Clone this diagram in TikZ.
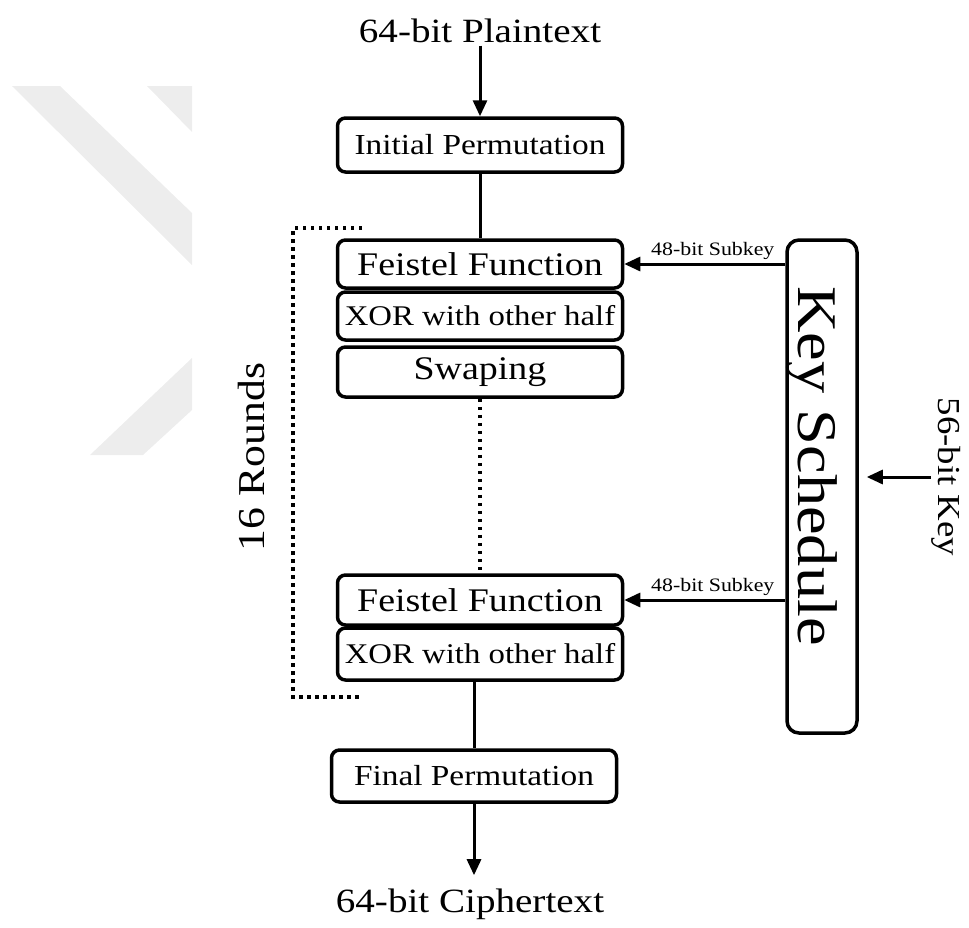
\documentclass[tikz,border=0pt]{standalone}
\usepackage{fontspec}
\setmainfont{Liberation Serif}[FakeStretch=1.15]
\usetikzlibrary{arrows.meta}
\newcommand\fsz[1]{\fontsize{#1}{#1}\selectfont}

\begin{document}
\begin{tikzpicture}[x=1pt,y=-1pt,
  blk/.style={draw,line width=3.5pt,rounded corners=8pt,minimum width=285pt,inner sep=0pt,fill=white},
  lbl/.style={inner sep=3pt},
  conn/.style={line width=3pt},
  arr/.style={line width=3pt,-{Triangle[length=16pt,width=14pt]}},
  dots/.style={line width=3.5pt,dash pattern=on 3.5pt off 4.5pt}]
\useasboundingbox (0,0) rectangle (969,927);
% watermark
\fill[black!7] (12,86) -- (60,86) -- (192,213) -- (192,265) -- cycle;
\fill[black!7] (147,86) -- (192,86) -- (192,132) -- cycle;
\fill[black!7] (192,358) -- (192,410) -- (143,455) -- (90,455) -- cycle;
% main column
\node[lbl,font=\fsz{34},anchor=base] (pt) at (480,42) {64-bit Plaintext};
\node[blk,minimum height=54pt,font=\fsz{29}] (ip) at (480,145) {Initial Permutation};
\node[blk,minimum height=48pt,font=\fsz{33}] (f1) at (480,264) {Feistel Function};
\node[blk,minimum height=48pt,font=\fsz{28.5}] (x1) at (480,316) {XOR with other half};
\node[blk,minimum height=50pt,font=\fsz{33}] (sw) at (480,372) {Swaping};
\node[blk,minimum height=50pt,font=\fsz{33}] (f2) at (480,600) {Feistel Function};
\node[blk,minimum height=52pt,font=\fsz{28.5}] (x2) at (480,654) {XOR with other half};
\node[blk,minimum height=52pt,font=\fsz{29}] (fp) at (474,776) {Final Permutation};
\node[lbl,font=\fsz{34},anchor=base] (ct) at (470,912) {64-bit Ciphertext};
\node[font=\fsz{38},rotate=90,anchor=base,inner sep=0pt] (rnd) at (264,457) {16 Rounds};
% key schedule
\node[blk,minimum width=70pt,minimum height=493pt,rounded corners=12pt] (ks) at (822,486.5) {};
\node[font=\fsz{56},rotate=-90,anchor=base,inner sep=0pt] (kst) at (798,466) {Key Schedule};
\node[font=\fsz{32},rotate=-90,anchor=base,inner sep=0pt] (kin) at (938,477) {56-bit Key};
% connectors
\draw[arr] (pt.south) -- (ip.north);
\draw[conn] (ip) -- (f1);
\draw[dots] (sw) -- (f2);
\draw[conn] (x2.south -| fp.north) -- (fp.north);
\draw[arr,shorten >=10pt] (fp.south) -- (fp.south |- ct.north);
\draw[arr] (f1.east -| ks.west) -- node[lbl,pos=0.45,above,font=\fsz{19}] {48-bit Subkey} (f1.east);
\draw[arr] (f2.east -| ks.west) -- node[lbl,pos=0.45,above,font=\fsz{19}] {48-bit Subkey} (f2.east);
\draw[arr,shorten >=8pt] (kin.south) -- (kin.south -| ks.east);
% round bracket
\draw[dots] (362,228) -- (293,228) -- (293,697) -- (362,697);
\end{tikzpicture}
\end{document}
